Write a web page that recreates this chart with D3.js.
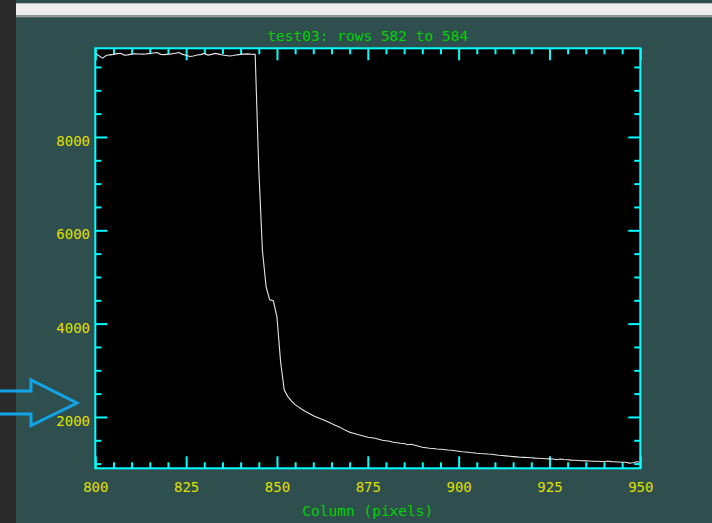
<!DOCTYPE html>
<html>
<head>
<meta charset="utf-8">
<script src="https://cdn.jsdelivr.net/npm/d3@7"></script>
<style>
  body { margin: 0; background: #2f4f4f; overflow: hidden; }
  .chart { width: 712px; height: 523px; }
</style>
</head>
<body>
<div class="chart"></div>
<script>
const titleText = "test03: rows 582 to 584";
const xTitle = "Column (pixels)";
const firstColumn = 800;
const lastColumn = 950;
const xMajor = [800, 825, 850, 875, 900, 925, 950];
const yMajor = [2000, 4000, 6000, 8000];
const counts = [
  9790, 9740, 9690, 9745, 9760, 9770, 9785, 9795, 9755, 9760,
  9775, 9780, 9778, 9775, 9780, 9790, 9800, 9808, 9770, 9765,
  9775, 9780, 9795, 9808, 9770, 9750, 9725, 9735, 9755, 9765,
  9790, 9755, 9770, 9790, 9775, 9756, 9745, 9735, 9745, 9760,
  9770, 9775, 9780, 9772, 9770, 7300, 5570, 4790, 4510, 4490,
  4140, 3180, 2575, 2436, 2339, 2264, 2210, 2156, 2113, 2070,
  2028, 1995, 1963, 1930, 1895, 1860, 1825, 1790, 1750, 1710,
  1675, 1652, 1630, 1609, 1587, 1566, 1555, 1544, 1523, 1501,
  1490, 1480, 1458, 1448, 1437, 1431, 1405, 1415, 1394, 1372,
  1351, 1340, 1329, 1323, 1314, 1308, 1302, 1293, 1287, 1276,
  1265, 1255, 1248, 1239, 1233, 1222, 1216, 1212, 1205, 1201,
  1190, 1179, 1173, 1166, 1158, 1151, 1145, 1138, 1134, 1130,
  1125, 1119, 1115, 1110, 1106, 1102, 1098, 1083, 1098, 1089,
  1083, 1076, 1072, 1068, 1063, 1059, 1055, 1050, 1050, 1046,
  1040, 1055, 1044, 1040, 1036, 1031, 1029, 1012, 1018, 1040,
  1029
];

const width = 712;
const height = 523;
const plotLeft = 95.3, plotRight = 640.3, plotTop = 48.3, plotBottom = 468.3;
const cyan = "#00ffff";
const yellow = "#e0e000";
const green = "#00d200";
const font = "'DejaVu Sans Mono', monospace";

const svg = d3.select(".chart")
  .append("svg")
  .attr("width", width)
  .attr("height", height);

// window chrome
svg.append("rect").attr("x", 0).attr("y", 0).attr("width", width).attr("height", height).attr("fill", "#2f4f4f");
svg.append("rect").attr("x", 16).attr("y", 3.3).attr("width", width - 16).attr("height", 12).attr("fill", "#eeeeee");
svg.append("rect").attr("x", 16).attr("y", 15.3).attr("width", width - 16).attr("height", 2).attr("fill", "#9a9a9a");
svg.append("rect").attr("x", 0).attr("y", 0).attr("width", 16).attr("height", height).attr("fill", "#2a2a2a");

const xScale = d3.scaleLinear().domain([800, 950]).range([plotLeft, plotRight]);
const yScale = d3.scaleLinear().domain([900, 9900]).range([plotBottom, plotTop]);

svg.append("rect")
  .attr("x", plotLeft).attr("y", plotTop)
  .attr("width", plotRight - plotLeft).attr("height", plotBottom - plotTop)
  .attr("fill", "#000");

const xMinor = d3.range(800, 951, 5).filter(v => xMajor.indexOf(v) < 0);
const yMinor = d3.range(1000, 9900, 500).filter(v => yMajor.indexOf(v) < 0);

function styleAxis(g) {
  g.select(".domain").remove();
  g.selectAll("line").attr("stroke", cyan).attr("stroke-width", 2);
}

svg.append("g").attr("transform", "translate(0," + plotBottom + ")")
  .call(d3.axisBottom(xScale).tickValues(xMajor).tickSize(-12).tickFormat(d3.format("d")))
  .call(styleAxis)
  .call(g => g.selectAll("text")
    .attr("y", 23.7).attr("dy", 0)
    .attr("fill", yellow).style("font", "14px " + font));
svg.append("g").attr("transform", "translate(0," + plotBottom + ")")
  .call(d3.axisBottom(xScale).tickValues(xMinor).tickSize(-6).tickFormat(""))
  .call(styleAxis);
svg.append("g").attr("transform", "translate(0," + plotTop + ")")
  .call(d3.axisTop(xScale).tickValues(xMajor).tickSize(-12).tickFormat(""))
  .call(styleAxis);
svg.append("g").attr("transform", "translate(0," + plotTop + ")")
  .call(d3.axisTop(xScale).tickValues(xMinor).tickSize(-6).tickFormat(""))
  .call(styleAxis);

svg.append("g").attr("transform", "translate(" + plotLeft + ",0)")
  .call(d3.axisLeft(yScale).tickValues(yMajor).tickSize(-12).tickFormat(d3.format("d")))
  .call(styleAxis)
  .call(g => g.selectAll("text")
    .attr("x", -5.3).attr("y", 8.5).attr("dy", 0)
    .attr("text-anchor", "end")
    .attr("fill", yellow).style("font", "14px " + font));
svg.append("g").attr("transform", "translate(" + plotLeft + ",0)")
  .call(d3.axisLeft(yScale).tickValues(yMinor).tickSize(-6).tickFormat(""))
  .call(styleAxis);
svg.append("g").attr("transform", "translate(" + plotRight + ",0)")
  .call(d3.axisRight(yScale).tickValues(yMajor).tickSize(-12).tickFormat(""))
  .call(styleAxis);
svg.append("g").attr("transform", "translate(" + plotRight + ",0)")
  .call(d3.axisRight(yScale).tickValues(yMinor).tickSize(-6).tickFormat(""))
  .call(styleAxis);

const columns = d3.range(firstColumn, lastColumn + 1);
const line = d3.line()
  .x((d, i) => xScale(columns[i]))
  .y(d => yScale(d));

svg.append("path")
  .datum(counts)
  .attr("d", line)
  .attr("fill", "none")
  .attr("stroke", "#e6e6e6")
  .attr("stroke-width", 1.1);

svg.append("rect")
  .attr("x", plotLeft).attr("y", plotTop)
  .attr("width", plotRight - plotLeft).attr("height", plotBottom - plotTop)
  .attr("fill", "none")
  .attr("stroke", cyan)
  .attr("stroke-width", 2);

svg.append("text")
  .attr("x", (plotLeft + plotRight) / 2).attr("y", 41)
  .attr("text-anchor", "middle")
  .attr("fill", green)
  .style("font", "14.5px " + font)
  .text(titleText);

svg.append("text")
  .attr("x", (plotLeft + plotRight) / 2).attr("y", 516)
  .attr("text-anchor", "middle")
  .attr("fill", green)
  .style("font", "14.5px " + font)
  .text(xTitle);

// annotation arrow on the left
svg.append("path")
  .attr("d", "M-2,391 L31,391 L31,380 L77,403 L31,425.5 L31,414 L-2,414")
  .attr("fill", "none")
  .attr("stroke", "#12a4e8")
  .attr("stroke-width", 3)
  .attr("stroke-linejoin", "miter");
</script>
</body>
</html>
